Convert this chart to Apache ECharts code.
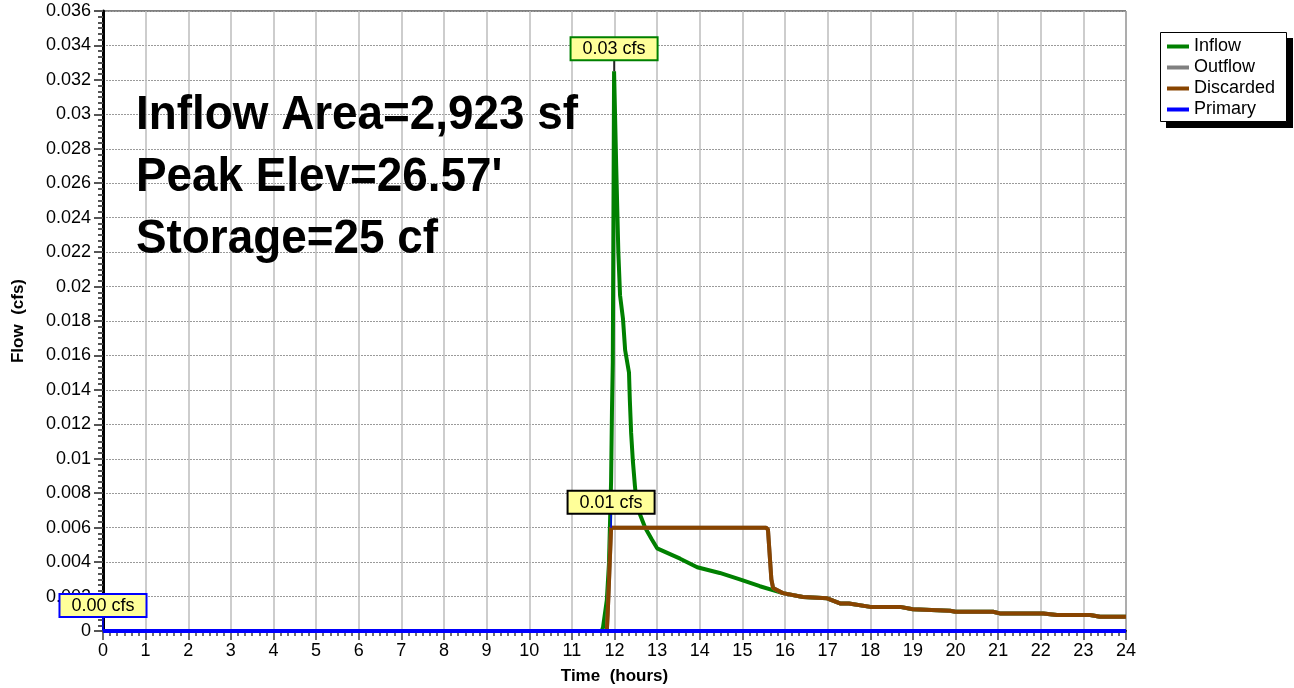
<!DOCTYPE html>
<html>
<head>
<meta charset="utf-8">
<script src="https://cdn.jsdelivr.net/npm/echarts@6/dist/echarts.min.js"></script>
<style>
  html, body { margin: 0; padding: 0; background: #fff; }
  #chart { width: 1294px; height: 688px; }
</style>
</head>
<body>
<div id="chart"></div>
<script>
// hydrograph data, time in hours, flow in cfs
var inflowT = [0, 11.7, 11.73, 11.82, 11.87, 11.92, 11.94, 11.96, 11.99, 12.04, 12.09, 12.13, 12.2, 12.25, 12.34, 12.36, 12.39, 12.43, 12.48, 12.53, 12.72, 12.88, 13.0, 13.54, 13.94, 14.47, 14.94, 15.41, 15.95, 16.42, 16.99, 17.29, 17.5, 18.0, 18.7, 19.0, 19.87, 20.0, 20.88, 21.04, 22.06, 22.38, 23.16, 23.39, 24];
var inflowQ = [0, 0, 0.0002, 0.0018, 0.0039, 0.0087, 0.0127, 0.0156, 0.0325, 0.027, 0.022, 0.0195, 0.0181, 0.0163, 0.015, 0.0134, 0.0115, 0.0099, 0.0084, 0.0072, 0.006, 0.0053, 0.0048, 0.0042, 0.0037, 0.00337, 0.003, 0.0026, 0.0022, 0.00197, 0.0019, 0.0016, 0.0016, 0.0014, 0.0014, 0.00126, 0.00118, 0.00112, 0.00112, 0.00102, 0.00102, 0.00093, 0.00093, 0.00083, 0.00083];

var discT = [0, 11.82, 11.84, 11.87, 11.88, 11.92, 15.55, 15.6, 15.68, 15.72, 15.95, 16.42, 16.99, 17.29, 17.5, 18.0, 18.7, 19.0, 19.87, 20.0, 20.88, 21.04, 22.06, 22.38, 23.16, 23.39, 24];
var discQ = [0, 0, 0.001, 0.0028, 0.0035, 0.006, 0.006, 0.0059, 0.003, 0.0025, 0.0022, 0.00197, 0.0019, 0.0016, 0.0016, 0.0014, 0.0014, 0.00126, 0.00118, 0.00112, 0.00112, 0.00102, 0.00102, 0.00093, 0.00093, 0.00083, 0.00083];

var primaryT = [0, 24];
var primaryQ = [0, 0];

var infoLines = ['Inflow Area=2,923 sf', "Peak Elev=26.57'", 'Storage=25 cf'];

function pairs(t, q) {
  return t.map(function (v, i) { return [v, q[i]] })
}

var font = 'Arial, "Liberation Sans", sans-serif'

function peakMark(t, q, text, border, stem, stemLen) {
  return {
    symbol: 'rect',
    symbolSize: [1.5, stemLen],
    symbolOffset: [0, -stemLen / 2],
    itemStyle: { color: stem },
    label: {
      show: true,
      position: 'top',
      distance: 1,
      formatter: text,
      color: '#000',
      fontSize: 18,
      fontFamily: font,
      backgroundColor: '#ffff99',
      borderColor: border,
      borderWidth: 2,
      padding: [2, 11, 1, 11]
    },
    data: [{ coord: [t, q] }]
  }
}

var chart = echarts.init(document.getElementById('chart'))

var option = {
  animation: false,
  textStyle: { fontFamily: font },
  grid: {
    left: 103,
    right: 168,
    top: 11,
    bottom: 57,
    containLabel: false,
    outerBoundsMode: 'none',
    show: true,
    borderColor: '#000',
    borderWidth: 1
  },
  legend: {
    orient: 'vertical',
    left: 1160,
    top: 33,
    padding: [3, 8, 3, 7],
    itemGap: 0,
    itemWidth: 22,
    itemHeight: 4,
    icon: 'rect',
    z: 10,
    textStyle: { fontSize: 18, color: '#000', fontFamily: font, lineHeight: 21 },
    data: ['Inflow', 'Outflow', 'Discarded', 'Primary']
  },
  xAxis: {
    type: 'value',
    min: 0,
    max: 24,
    interval: 1,
    name: 'Time  (hours)',
    nameLocation: 'middle',
    nameGap: 37,
    nameTextStyle: { fontSize: 17, fontWeight: 'bold', color: '#000' },
    axisLine: { lineStyle: { color: '#000', width: 2 } },
    axisTick: { length: 9, lineStyle: { color: '#444', width: 1.5 } },
    minorTick: { show: true, splitNumber: 6, length: 5, lineStyle: { color: '#444', width: 1.5 } },
    axisLabel: { fontSize: 18, color: '#000', margin: 11 },
    splitLine: { show: true, lineStyle: { color: '#bdbdbd', width: 1.5 } }
  },
  yAxis: {
    type: 'value',
    min: 0,
    max: 0.036,
    interval: 0.002,
    name: 'Flow  (cfs)',
    nameLocation: 'middle',
    nameGap: 76,
    nameTextStyle: { fontSize: 17, fontWeight: 'bold', color: '#000' },
    axisLine: { show: true, lineStyle: { color: '#000', width: 3 } },
    axisTick: { show: true, length: 9, lineStyle: { color: '#555', width: 2 } },
    minorTick: { show: true, splitNumber: 6, length: 5, lineStyle: { color: '#555', width: 2 } },
    axisLabel: {
      fontSize: 18,
      color: '#000',
      margin: 12,
      formatter: function (v) { return v === 0 ? '0' : String(+v.toFixed(3)) }
    },
    splitLine: { show: true, lineStyle: { color: '#9a9a9a', width: 1, type: [2, 1] } }
  },
  graphic: [
    // legend frame with drop shadow
    { type: 'rect', z: 1, shape: { x: 1166, y: 38, width: 127, height: 90 }, style: { fill: '#000' } },
    { type: 'rect', z: 2, shape: { x: 1160.5, y: 32.5, width: 126, height: 89 }, style: { fill: '#fff', stroke: '#000', lineWidth: 1 } }
  ].concat(infoLines.map(function (s, i) {
    return {
      type: 'text',
      x: 136,
      y: 92 + i * 62,
      scaleX: 0.955,
      z: 100,
      style: { text: s, font: 'bold 48px ' + font, fill: '#000' }
    }
  })),
  series: [
    {
      name: 'Inflow',
      type: 'line',
      symbol: 'none',
      color: '#008000',
      lineStyle: { width: 4 },
      data: pairs(inflowT, inflowQ),
      markPoint: peakMark(11.99, 0.0325, '0.03 cfs', '#008000', '#000', 11)
    },
    {
      name: 'Outflow',
      type: 'line',
      symbol: 'none',
      color: '#808080',
      lineStyle: { width: 4 },
      data: pairs(discT, discQ)
    },
    {
      name: 'Discarded',
      type: 'line',
      symbol: 'none',
      color: '#884400',
      lineStyle: { width: 4 },
      data: pairs(discT, discQ),
      markPoint: peakMark(11.92, 0.006, '0.01 cfs', '#000', '#0000ff', 14)
    },
    {
      name: 'Primary',
      type: 'line',
      symbol: 'none',
      color: '#0000ff',
      lineStyle: { width: 4 },
      data: pairs(primaryT, primaryQ),
      markPoint: peakMark(0, 0, '0.00 cfs', '#0000ff', '#0000ff', 14)
    }
  ]
}

chart.setOption(option)
</script>
</body>
</html>
